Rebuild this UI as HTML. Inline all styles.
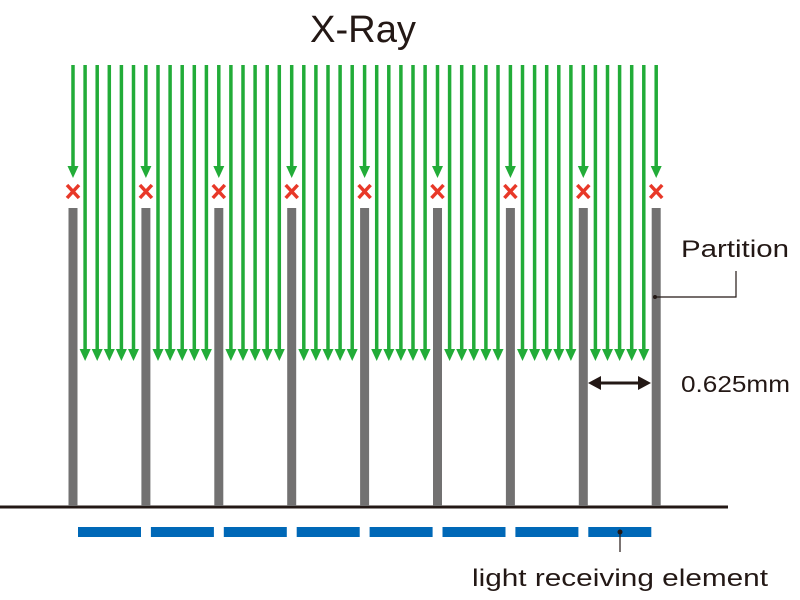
<!DOCTYPE html>
<html><head><meta charset="utf-8"><style>
html,body{margin:0;padding:0;background:#fff;width:800px;height:600px;overflow:hidden}
text{font-family:"Liberation Sans",sans-serif;fill:#231815}
</style></head><body>
<svg id="s" width="800" height="600" xmlns="http://www.w3.org/2000/svg">
<text x="310" y="42" font-size="38" textLength="106" lengthAdjust="spacingAndGlyphs">X-Ray</text>
<text x="681" y="257" font-size="24" textLength="108" lengthAdjust="spacingAndGlyphs">Partition</text>
<text x="681" y="392" font-size="23" textLength="109" lengthAdjust="spacingAndGlyphs">0.625mm</text>
<text x="472" y="586" font-size="24" textLength="296" lengthAdjust="spacingAndGlyphs">light receiving element</text>
<line x1="0" y1="507" x2="728" y2="507" stroke="#231815" stroke-width="3"/>
<g id="g"></g>
<circle cx="655" cy="297" r="2" fill="#231815"/>
<polyline points="655,297 736,297 736,271" fill="none" stroke="#231815" stroke-width="1.2"/>
<line x1="598" y1="383" x2="642" y2="383" stroke="#231815" stroke-width="3"/>
<polygon points="588,383 601,376 601,390" fill="#231815"/>
<polygon points="651,383 638,376 638,390" fill="#231815"/>
<circle cx="620" cy="532" r="2.5" fill="#231815"/>
<line x1="620" y1="532" x2="620" y2="552" stroke="#231815" stroke-width="1.2"/>
</svg>
<script>
var g=document.getElementById('g'),h='';
for(var i=0;i<9;i++){
 var x=73+i*72.9;
 h+='<rect x="'+(x-4.5)+'" y="208" width="9" height="298" fill="#727171"/>';
 h+='<line x1="'+x+'" y1="65" x2="'+x+'" y2="168" stroke="#22ac38" stroke-width="3.5"/>';
 h+='<polygon points="'+(x-5.5)+',166 '+(x+5.5)+',166 '+x+',178" fill="#22ac38"/>';
 h+='<path d="M'+(x-6)+' 185 L'+(x+6)+' 198 M'+(x+6)+' 185 L'+(x-6)+' 198" stroke="#e83828" stroke-width="3.5"/>';
 if(i<8){
  for(var j=1;j<=5;j++){var xx=x+j*12.1;
   h+='<line x1="'+xx+'" y1="65" x2="'+xx+'" y2="351" stroke="#22ac38" stroke-width="3.5"/>';
   h+='<polygon points="'+(xx-5.5)+',349 '+(xx+5.5)+',349 '+xx+',361" fill="#22ac38"/>';}
  h+='<rect x="'+(x+5)+'" y="527" width="63" height="10" fill="#0068b7"/>';
 }
}
g.innerHTML=h;
</script>
</body></html>
